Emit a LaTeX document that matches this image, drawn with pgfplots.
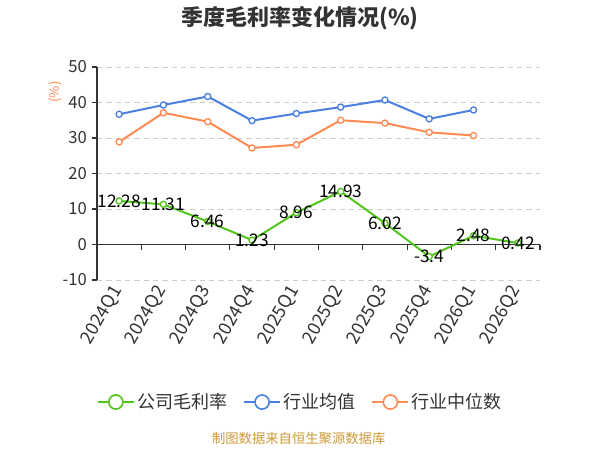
\documentclass[border=0pt]{standalone}
\usepackage{fontspec}
\setmainfont{Noto Sans CJK SC}
\usepackage{pgfplots}
\pgfplotsset{compat=1.18}
\definecolor{cgreen}{RGB}{82,196,26}
\definecolor{cblue}{RGB}{74,128,226}
\definecolor{corange}{RGB}{255,138,84}
\definecolor{cgrid}{RGB}{204,204,204}
\definecolor{caxis}{RGB}{51,51,51}
\definecolor{ctext}{RGB}{51,51,51}
\definecolor{cfoot}{RGB}{204,153,51}
\begin{document}
\begin{tikzpicture}[x=1pt,y=1pt]
\path[use as bounding box] (0,0) rectangle (450,337.5);
\node[font=\fontsize{16.5}{19}\selectfont\bfseries, text=ctext] at (225,324) {季度毛利率变化情况(\%)};
\node[font=\fontsize{10}{12}\selectfont, text=cfoot] at (224,9) {制图数据来自恒生聚源数据库};
\begin{axis}[
  at={(72.75pt,127.5pt)}, anchor=south west, scale only axis,
  width=332.25pt, height=159.75pt,
  xmin=-0.5, xmax=9.5, ymin=-10, ymax=50,
  ytick={-10,0,10,20,30,40,50},
  xtick={0,...,9},
  xticklabels={2024Q1,2024Q2,2024Q3,2024Q4,2025Q1,2025Q2,2025Q3,2025Q4,2026Q1,2026Q2},
  axis x line*=bottom, axis y line*=left,
  axis line style={-},
  x axis line style={draw=none},
  y axis line style={caxis, line width=0.8pt},
  xtick style={draw=none},
  ytick style={caxis, line width=0.8pt},
  tick align=outside, major tick length=4pt,
  ymajorgrids, grid style={cgrid, dash pattern=on 4pt off 3pt, line width=0.6pt},
  /pgf/number format/assume math mode=true,
  yticklabel style={font=\fontsize{12.5}{14}\selectfont, text=ctext},
  xticklabel style={font=\fontsize{13.5}{15}\selectfont, text=ctext, rotate=60, anchor=east, xshift=1.5pt},
  clip=false,
  legend columns=3,
  legend style={at={(0.46,-0.573)}, anchor=center, draw=none, fill=none,
    font=\fontsize{13.5}{16}\selectfont, text=ctext,
    /tikz/every even column/.append style={column sep=10pt}},
  legend image code/.code={
    \draw[#1, mark=none, line width=1.2pt] (0pt,0pt) -- (27pt,0pt);
    \draw[#1, mark=none, line width=1.2pt, fill=white] (13.5pt,0pt) circle (5.3pt);
  },
]
\draw[caxis, line width=0.8pt] (axis cs:-0.5,0) -- (axis cs:9.5,0);
\pgfplotsinvokeforeach{-0.5,0.5,1.5,2.5,3.5,4.5,5.5,6.5,7.5,8.5,9.5}{
  \draw[caxis, line width=0.8pt] (axis cs:#1,0) -- ++(0pt,-4pt);
}
\addplot[cgreen, line width=1.5pt, mark=*, mark size=2.3pt, mark options={fill=white, line width=1pt},
  point meta=explicit symbolic, nodes near coords={\pgfplotspointmeta},
  every node near coord/.append style={anchor=center, text=black, font=\fontsize{13}{15}\selectfont}]
  coordinates {(0,12.28)[12.28] (1,11.31)[11.31] (2,6.46)[6.46] (3,1.23)[1.23] (4,8.96)[8.96]
    (5,14.93)[14.93] (6,6.02)[6.02] (7,-3.4)[-3.4] (8,2.48)[2.48] (9,0.42)[0.42]};
\addlegendentry{公司毛利率}
\addplot[cblue, line width=1.5pt, mark=*, mark size=2.3pt, mark options={fill=white, line width=1pt}]
  coordinates {(0,36.7) (1,39.3) (2,41.7) (3,34.9) (4,36.9) (5,38.7) (6,40.7) (7,35.4) (8,37.9)};
\addlegendentry{行业均值}
\addplot[corange, line width=1.5pt, mark=*, mark size=2.3pt, mark options={fill=white, line width=1pt}]
  coordinates {(0,28.9) (1,37.1) (2,34.6) (3,27.2) (4,28.1) (5,35.0) (6,34.2) (7,31.6) (8,30.7)};
\addlegendentry{行业中位数}
\node[rotate=90, text=corange, font=\fontsize{10}{12}\selectfont] at ([xshift=-31.5pt]rel axis cs:0,0.883) {(\%)};
\end{axis}
\end{tikzpicture}
\end{document}
